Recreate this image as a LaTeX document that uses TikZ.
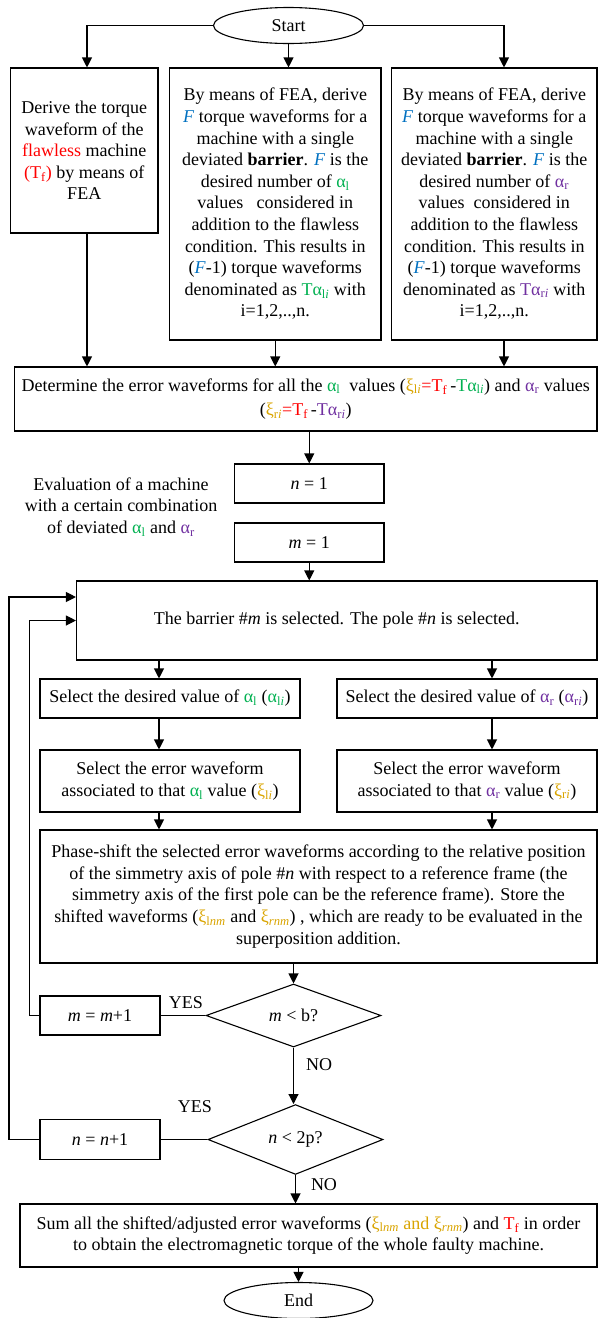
\documentclass[tikz,border=0pt]{standalone}
\usepackage{fontspec}
\setmainfont{Liberation Serif}
\usetikzlibrary{shapes.geometric,arrows.meta}
\definecolor{cblue}{HTML}{0070C0}
\definecolor{cgreen}{HTML}{00B050}
\definecolor{cpurple}{HTML}{7030A0}
\definecolor{cgold}{HTML}{D9A400}
\newcommand{\alL}{{\color{cgreen}α\textsubscript{l}}}
\newcommand{\alR}{{\color{cpurple}α\textsubscript{r}}}
\newcommand{\FF}{{\color{cblue}\textit{F}}}
\newcommand{\TTf}{{\color{red}T\textsubscript{f}}}
\begin{document}
\begin{tikzpicture}[x=1pt,y=-1pt,
  every node/.style={font=\fontsize{18}{21.6}\selectfont, inner sep=0pt, align=center},
  boxn/.style={draw, rectangle, line width=1.1pt},
  ell/.style={draw, ellipse, line width=1.1pt},
  dia/.style={draw, diamond, line width=1.1pt},
  arr/.style={line width=1.1pt, -{Triangle[length=10pt,width=10pt]}},
  ln/.style={line width=1.1pt},
  lbl/.style={font=\fontsize{18}{21.6}\selectfont}]
\useasboundingbox (0,0) rectangle (599,1318);

\node[ell, minimum width=150pt, minimum height=36pt] (start) at (288.5,25.5) {Start};

\node[boxn, minimum width=147.5pt, minimum height=165pt] (b1) at (84.25,150.5)
 {Derive the torque\\ waveform of the\\ {\color{red}flawless} machine\\ {\color{red}(T\textsubscript{f})} by means of\\ FEA};

\node[boxn, minimum width=211.5pt, minimum height=272pt] (b2) at (275.25,204)
 {By means of FEA, derive\\ \FF{} torque waveforms for a\\ machine with a single\\ deviated \textbf{barrier}. \FF{} is the\\ desired number of \alL\\ values \ \ considered in\\ addition to the flawless\\ condition. This results in\\ (\FF-1) torque waveforms\\ denominated as {\color{cgreen}Tα\textsubscript{l\textit{i}}} with\\ i=1,2,..,n.};

\node[boxn, minimum width=205.5pt, minimum height=272pt] (b3) at (494.25,204)
 {By means of FEA, derive\\ \FF{} torque waveforms for a\\ machine with a single\\ deviated \textbf{barrier}. \FF{} is the\\ desired number of \alR\\ values \ considered in\\ addition to the flawless\\ condition. This results in\\ (\FF-1) torque waveforms\\ denominated as {\color{cpurple}Tα\textsubscript{r\textit{i}}} with\\ i=1,2,..,n.};

\node[boxn, minimum width=582.5pt, minimum height=64pt] (b4) at (305.75,399)
 {Determine the error waveforms for all the \alL\ \ values ({\color{cgold}ξ\textsubscript{l\textit{i}}}{\color{red}=T\textsubscript{f}}\,-{\color{cgreen}Tα\textsubscript{l\textit{i}}}) and \alR\ values\\[3pt] ({\color{cgold}ξ\textsubscript{r\textit{i}}}{\color{red}=T\textsubscript{f}}\,-{\color{cpurple}Tα\textsubscript{r\textit{i}}})};

\node[boxn, minimum width=149.5pt, minimum height=39pt] (n1) at (309.25,483.5) {\textit{n} = 1};
\node[boxn, minimum width=149.5pt, minimum height=39pt] (m1) at (309.25,542.5) {\textit{m} = 1};
\node (eval) at (121,507) {Evaluation of a machine\\ with a certain combination\\ of deviated \alL\ and \alR};

\node[boxn, minimum width=520.5pt, minimum height=79pt] (bar) at (336.75,620.5)
 {The barrier \#\textit{m} is selected. The pole \#\textit{n} is selected.};

\node[boxn, minimum width=260pt, minimum height=39pt] (sl) at (170,698.5)
 {Select the desired value of \alL\ ({\color{cgreen}α\textsubscript{l\textit{i}}})};
\node[boxn, minimum width=260pt, minimum height=39pt] (sr) at (467,698.5)
 {Select the desired value of \alR\ ({\color{cpurple}α\textsubscript{r\textit{i}}})};
\node[boxn, minimum width=260pt, minimum height=62pt] (el) at (170,781)
 {Select the error waveform\\ associated to that \alL\ value ({\color{cgold}ξ\textsubscript{l\textit{i}}})};
\node[boxn, minimum width=260pt, minimum height=62pt] (er) at (467,781)
 {Select the error waveform\\ associated to that \alR\ value ({\color{cgold}ξ\textsubscript{r\textit{i}}})};

\node[boxn, minimum width=557pt, minimum height=133pt] (ph) at (318.5,896.5)
 {Phase-shift the selected error waveforms according to the relative position\\ of the simmetry axis of pole \#\textit{n} with respect to a reference frame (the\\ simmetry axis of the first pole can be the reference frame). Store the\\ shifted waveforms ({\color{cgold}ξ\textsubscript{l\textit{nm}}} and {\color{cgold}ξ\textsubscript{\textit{rnm}}}) , which are ready to be evaluated in the\\ superposition addition.};

\node[dia, minimum width=175pt, minimum height=63pt] (d1) at (293.5,1015.5) {\textit{m} < b?};
\node[boxn, minimum width=120pt, minimum height=39pt] (mplus) at (100,1015.5) {\textit{m} = \textit{m}+1};
\node[dia, minimum width=175pt, minimum height=64pt] (d2) at (295.5,1139.5) {\textit{n} < 2p?};
\node[boxn, minimum width=120pt, minimum height=40pt] (nplus) at (100,1139.5) {\textit{n} = \textit{n}+1};

\node[boxn, minimum width=577pt, minimum height=63pt] (sum) at (308.5,1235.5)
 {Sum all the shifted/adjusted error waveforms ({\color{cgold}ξ\textsubscript{l\textit{nm}} and ξ\textsubscript{\textit{rnm}}}) and \TTf\ in order\\ to obtain the electromagnetic torque of the whole faulty machine.};

\node[ell, minimum width=149pt, minimum height=36pt] (end) at (298.5,1300.5) {End};

\node[lbl] (yes1) at (186,1003) {YES};
\node[lbl] (yes2) at (195,1107) {YES};
\node[lbl] (no1) at (319,1065) {NO};
\node[lbl] (no2) at (324,1185) {NO};

% connectors
\draw[arr] (start.west) -| ([xshift=2.75pt]b1.north);
\draw[arr] (start.south) -- (start.south |- b2.north);
\draw[arr] (start.east) -| ([xshift=9.75pt]b3.north);

\draw[arr] ([xshift=2.75pt]b1.south) -- ([xshift=2.75pt]b1.south |- b4.north);
\draw[arr] (b2.south) -- (b2.south |- b4.north);
\draw[arr] ([xshift=9.75pt]b3.south) -- ([xshift=9.75pt]b3.south |- b4.north);

\draw[arr] (n1.north |- b4.south) -- (n1.north);
\draw[arr] (m1.south) -- (m1.south |- bar.north);

\draw[arr] ([xshift=-11pt]sl.north |- bar.south) -- ([xshift=-11pt]sl.north);
\draw[arr] ([xshift=25pt]sr.north |- bar.south) -- ([xshift=25pt]sr.north);
\draw[arr] ([xshift=-11pt]sl.south) -- ([xshift=-11pt]el.north);
\draw[arr] ([xshift=25pt]sr.south) -- ([xshift=25pt]er.north);
\draw[arr] ([xshift=-11pt]el.south) -- ([xshift=-11pt]el.south |- ph.north);
\draw[arr] ([xshift=25pt]er.south) -- ([xshift=25pt]er.south |- ph.north);

\draw[arr] (d1.north |- ph.south) -- (d1.north);
\draw[ln] (d1.west) -- (mplus.east);
\draw[arr] (mplus.west) -- ++(-10,0) |- (bar.west);
\draw[arr] (d1.south) -- (d1.south |- d2.north);
\draw[ln] (d2.west) -- (nplus.east);
\draw[arr] (nplus.west) -- ++(-30.5,0) |- ([yshift=23.5pt]bar.west);
\draw[arr] (d2.south) -- (d2.south |- sum.north);
\draw[arr] (end.north |- sum.south) -- (end.north);
\end{tikzpicture}
\end{document}
